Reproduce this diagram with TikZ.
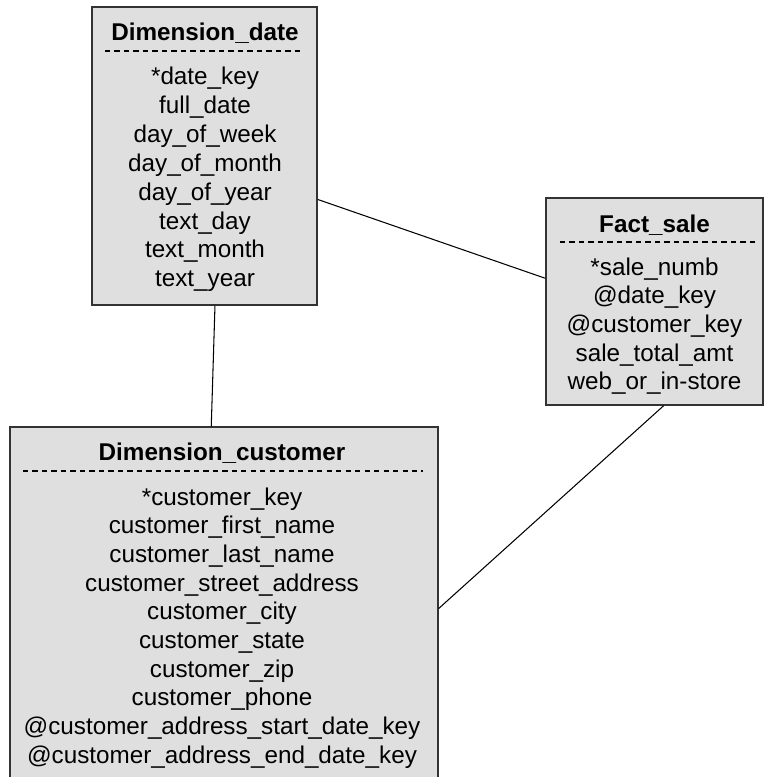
\documentclass[tikz,border=0pt]{standalone}
\usepackage{fontspec}
\setmainfont{Liberation Sans}
\tikzset{
  tablebox/.style={draw=black!80, line width=0.85pt, fill=gray!25, inner sep=0pt},
  tabletitle/.style={anchor=base, inner sep=0pt, font=\fontsize{13.8}{16}\selectfont\bfseries},
  field/.style={anchor=base, inner sep=0pt, font=\fontsize{13.8}{16}\selectfont},
  sepline/.style={line width=0.6pt, dash pattern=on 3pt off 2.4pt},
  link/.style={line width=0.6pt}
}
\begin{document}
\begin{tikzpicture}[x=0.02cm,y=-0.02cm]
  \clip (0,0) rectangle (766,777);
  % tables
  \node[tablebox, minimum width=4.5cm, minimum height=5.96cm] (date) at (204.5,156) {};
  \node[tablebox, minimum width=4.34cm, minimum height=4.14cm] (fact) at (654.5,301.5) {};
  \node[tablebox, minimum width=8.56cm, minimum height=7.26cm] (cust) at (224,608.5) {};
  % Dimension_date
  \node[tabletitle] (date-title) at (205,41) {Dimension\_date};
  \draw[sepline] (105,51) -- (302,51);
  \foreach \f [count=\i] in {*date\_key, full\_date, day\_of\_week, day\_of\_month,
      day\_of\_year, text\_day, text\_month, text\_year}
    \node[field] (date-\i) at (205,{85+28.8*(\i-1)}) {\f};
  % Fact_sale
  \node[tabletitle] (fact-title) at (654.5,232) {Fact\_sale};
  \draw[sepline] (560,242) -- (757,242);
  \foreach \f [count=\i] in {*sale\_numb, @date\_key, @customer\_key, sale\_total\_amt,
      web\_or\_in-store}
    \node[field] (fact-\i) at (654.5,{275+28.7*(\i-1)}) {\f};
  % Dimension_customer
  \node[tabletitle] (cust-title) at (222,460) {Dimension\_customer};
  \draw[sepline] (23,471) -- (423,471);
  \foreach \f [count=\i] in {*customer\_key, customer\_first\_name, customer\_last\_name,
      customer\_street\_address, customer\_city, customer\_state, customer\_zip,
      customer\_phone, @customer\_address\_start\_date\_key, @customer\_address\_end\_date\_key}
    \node[field] (cust-\i) at (222,{505+28.7*(\i-1)}) {\f};
  % links
  \draw[link] (date.-21.4) -- (fact.168.8);
  \draw[link] (date.-86) -- (cust.94.1);
  \draw[link] (fact.-85.3) -- (cust.-0.9);
\end{tikzpicture}
\end{document}
